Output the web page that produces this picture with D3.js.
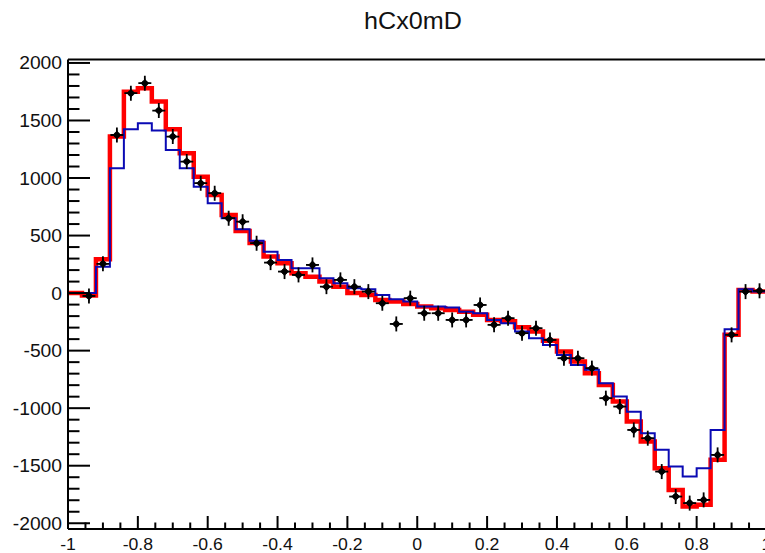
<!DOCTYPE html>
<html>
<head>
<meta charset="utf-8">
<script src="https://cdn.jsdelivr.net/npm/d3@7"></script>
<style>
  html, body { margin: 0; padding: 0; background: #fff; }
  svg { display: block; font-family: "Liberation Sans", Arial, sans-serif; }
</style>
</head>
<body>
<svg id="chart" width="765" height="553"></svg>
<script>
// Histogram hCx0mD: 50 bins on [-1, 1]
const chartTitle = "hCx0mD";
const xLow = -1;
const binWidth = 0.04;

// Reference model (red, thick)
const redValues = [
  0, -20, 295, 1360, 1750, 1780, 1664, 1424, 1215, 1012,
  853, 679, 540, 435, 317, 260, 173, 143, 100, 56,
  0, -16, -59, -73, -94, -117, -131, -146, -161, -189,
  -233, -245, -296, -334, -413, -508, -595, -696, -798, -943,
  -1116, -1290, -1521, -1710, -1855, -1840, -1449, -363, 28, 13
];

// Alternative model (blue, thin)
const blueValues = [
  0, 0, 230, 1085, 1424, 1476, 1412, 1244, 1085, 925,
  781, 651, 555, 455, 360, 288, 216, 216, 129, 86,
  43, 34, -16, -53, -73, -117, -117, -126, -161, -175,
  -233, -262, -334, -392, -450, -537, -624, -667, -783, -899,
  -1030, -1217, -1362, -1507, -1594, -1521, -1189, -314, 34, 13
];

// Measured points (black markers); null where no point is drawn
const dataValues = [
  null, -25, 254, 1374, 1737, 1824, 1586, 1360, 1143, 955,
  868, 651, 621, 434, 265, 187, 158, 245, 56, 115,
  56, 13, -88, -268, -44, -175, -175, -233, -233, -103,
  -276, -218, -348, -305, -407, -566, -566, -652, -913, -986,
  -1189, -1261, -1551, -1768, -1825, -1797, -1406, -363, 13, 20
];

const xTickValues = [-1, -0.8, -0.6, -0.4, -0.2, 0, 0.2, 0.4, 0.6, 0.8, 1];
const xTickLabels = ["-1", "-0.8", "-0.6", "-0.4", "-0.2", "0", "0.2", "0.4", "0.6", "0.8", "1"];
const yTickValues = [-2000, -1500, -1000, -500, 0, 500, 1000, 1500, 2000];
const yTickLabels = ["-2000", "-1500", "-1000", "-500", "0", "500", "1000", "1500", "2000"];

const svg = d3.select("#chart");

const frame = { left: 68, right: 766.5, top: 59.5, bottom: 529 };
const x = d3.scaleLinear().domain([-1, 1]).range([frame.left, frame.right]);
const y = d3.scaleLinear().domain([-2050, 2030]).range([frame.bottom, frame.top]);

const nBins = redValues.length;
const edge = k => xLow + k * binWidth;

const plot = svg.append("g");

// Clip to the frame
svg.append("defs").append("clipPath").attr("id", "frameClip")
  .append("rect")
  .attr("x", frame.left).attr("y", frame.top - 2)
  .attr("width", frame.right - frame.left + 4)
  .attr("height", frame.bottom - frame.top + 4);

const stepLine = d3.line()
  .x(d => x(d[0]))
  .y(d => y(d[1]))
  .curve(d3.curveStepAfter);

function histPoints(values) {
  const pts = values.map((v, k) => [edge(k), v]);
  pts.push([edge(nBins), values[nBins - 1]]);
  return pts;
}

const marks = plot.append("g").attr("clip-path", "url(#frameClip)");

marks.append("path")
  .attr("d", stepLine(histPoints(redValues)))
  .attr("fill", "none")
  .attr("stroke", "#ff0000")
  .attr("stroke-width", 4.5);

marks.append("path")
  .attr("d", stepLine(histPoints(blueValues)))
  .attr("fill", "none")
  .attr("stroke", "#0a0ab4")
  .attr("stroke-width", 2);

// Data points: star-like marker with error bars
const pts = dataValues.map((v, k) => ({ k, v })).filter(d => d.v !== null);
const pg = marks.append("g").selectAll("g").data(pts).join("g")
  .attr("transform", d => `translate(${x(edge(d.k) + binWidth / 2)},${y(d.v)})`);
pg.append("line").attr("x1", -6.5).attr("x2", 6.5).attr("y1", 0).attr("y2", 0)
  .attr("stroke", "#000").attr("stroke-width", 1.8);
pg.append("line").attr("x1", 0).attr("x2", 0).attr("y1", -7.5).attr("y2", 7.5)
  .attr("stroke", "#000").attr("stroke-width", 1.8);
pg.append("path")
  .attr("d", "M0,-6 Q0.8,-0.8 6,0 Q0.8,0.8 0,6 Q-0.8,0.8 -6,0 Q-0.8,-0.8 0,-6 Z")
  .attr("fill", "#000");
pg.append("circle").attr("r", 3).attr("fill", "#000");

// Axes frame
const axisColor = "#000";
plot.append("line")
  .attr("x1", frame.left).attr("x2", frame.right)
  .attr("y1", frame.top).attr("y2", frame.top)
  .attr("stroke", axisColor).attr("stroke-width", 2);
plot.append("line")
  .attr("x1", frame.left).attr("x2", frame.left)
  .attr("y1", frame.top).attr("y2", frame.bottom)
  .attr("stroke", axisColor).attr("stroke-width", 2);
plot.append("line")
  .attr("x1", frame.left).attr("x2", frame.right)
  .attr("y1", frame.bottom).attr("y2", frame.bottom)
  .attr("stroke", axisColor).attr("stroke-width", 2);

// X ticks: major every 0.2, minor every 0.05
const xMinor = d3.range(-1, 1.0001, 0.05).map(v => +v.toFixed(2));
plot.append("g").selectAll("line").data(xMinor).join("line")
  .attr("x1", d => x(d)).attr("x2", d => x(d))
  .attr("y1", frame.bottom)
  .attr("y2", d => frame.bottom - (xTickValues.some(t => Math.abs(t - d) < 1e-6) ? 13 : 6.5))
  .attr("stroke", axisColor).attr("stroke-width", 2);

// Y ticks: major every 500, minor every 100
const yMinor = d3.range(-2000, 2001, 100);
plot.append("g").selectAll("line").data(yMinor).join("line")
  .attr("x1", frame.left)
  .attr("x2", d => frame.left + (d % 500 === 0 ? 22 : 11.5))
  .attr("y1", d => y(d)).attr("y2", d => y(d))
  .attr("stroke", axisColor).attr("stroke-width", 2);

// Tick labels
const stretch = 1.07;
plot.append("g").selectAll("text").data(xTickValues).join("text")
  .attr("transform", d => `translate(${x(d)},550) scale(${stretch},1)`)
  .attr("text-anchor", "middle")
  .attr("font-size", 16.5)
  .attr("fill", "#111")
  .text((d, i) => xTickLabels[i]);

plot.append("g").selectAll("text").data(yTickValues).join("text")
  .attr("transform", d => `translate(62,${y(d) + 6.5}) scale(${stretch},1)`)
  .attr("text-anchor", "end")
  .attr("font-size", 18)
  .attr("fill", "#111")
  .text((d, i) => yTickLabels[i]);

// Title
svg.append("text")
  .attr("transform", `translate(413,28.5) scale(${stretch},1)`)
  .attr("text-anchor", "middle")
  .attr("font-size", 23.5)
  .attr("fill", "#111")
  .text(chartTitle);
</script>
</body>
</html>
